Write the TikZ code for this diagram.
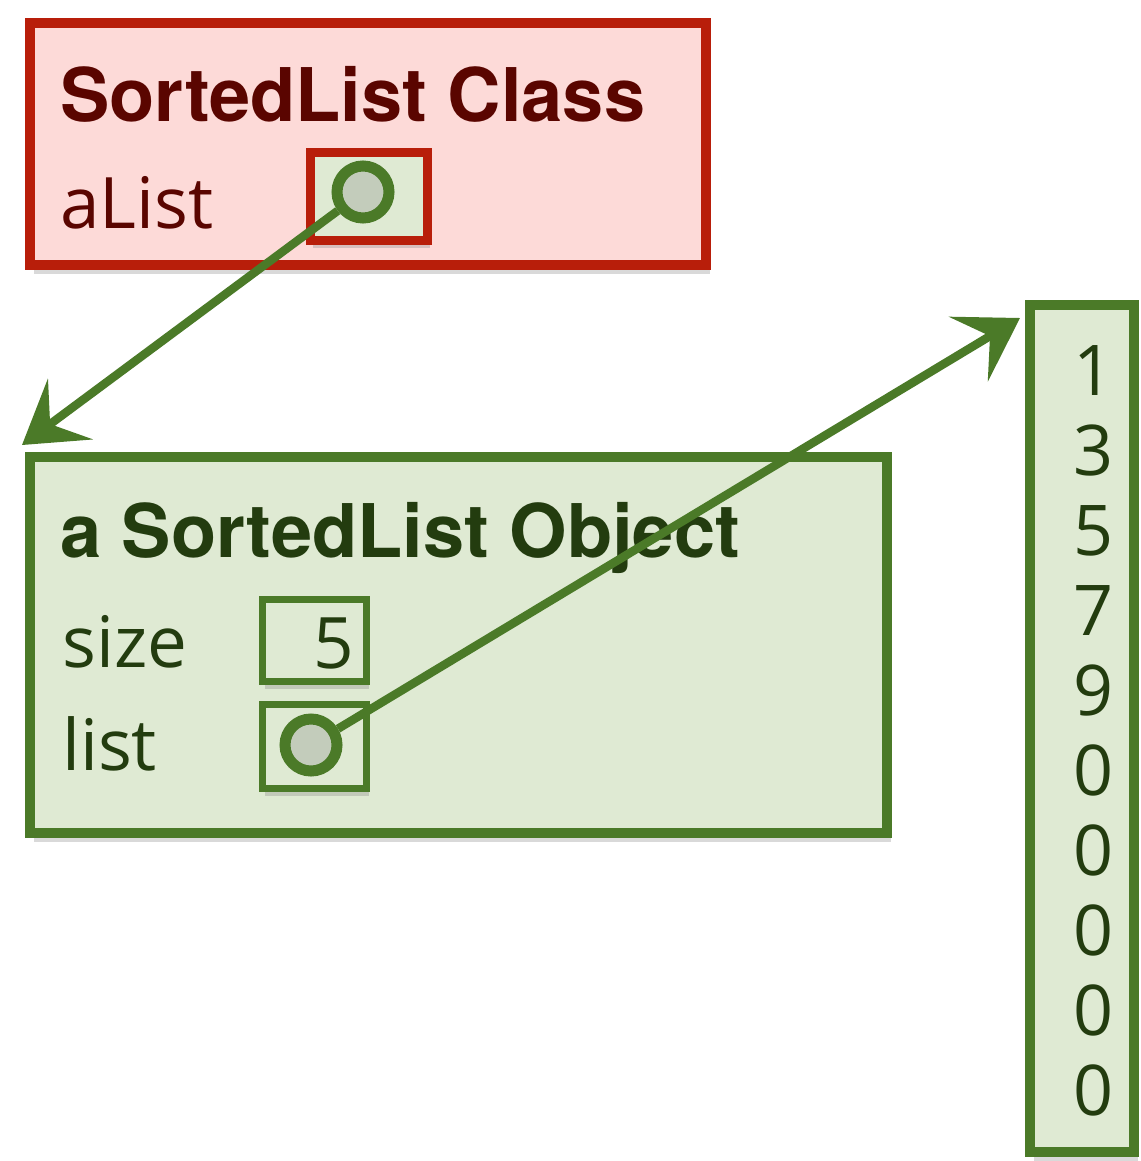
\documentclass[tikz,border=0pt]{standalone}
\usepackage{fontspec}
\setmainfont{Open Sans}
\newfontfamily\headfont{TeX Gyre Heros}
\usetikzlibrary{positioning,shadows,arrows.meta}
\definecolor{ClassLine}{HTML}{B81E0A}
\definecolor{ClassFill}{HTML}{FDDAD8}
\definecolor{ClassText}{HTML}{5A0500}
\definecolor{ObjLine}{HTML}{4B7A28}
\definecolor{ObjFill}{HTML}{DFEAD3}
\definecolor{ObjText}{HTML}{233C0F}
\definecolor{RefFill}{HTML}{C3CCBB}
\tikzset{%
	box/.style={
		rectangle,
		draw,
		line width=10pt,
		inner sep=0pt,
		drop shadow={shadow xshift=4pt, shadow yshift=-9pt, opacity=0.3}
	},
	box-class/.style={ draw=ClassLine, fill=ClassFill },
	box-object/.style={ draw=ObjLine, fill=ObjFill },
	slot/.style={
		rectangle,
		draw=ObjLine,
		fill=ObjFill,
		line width=7pt,
		inner sep=0pt,
		drop shadow={shadow xshift=3pt, shadow yshift=-8pt, opacity=0.3}
	},
	ref/.style={
		circle,
		draw=ObjLine,
		fill=RefFill,
		line width=11pt,
		minimum size=52pt,
		inner sep=0pt
	},
	head/.style={ font=\headfont\bfseries\fontsize{74}{80}\selectfont, anchor=base west, inner sep=0pt },
	field/.style={ font=\fontsize{71}{75}\selectfont, anchor=base west, inner sep=0pt },
	cell/.style={ font=\fontsize{70}{74}\selectfont, anchor=base, inner sep=0pt, text=ObjText },
	ptr/.style={ draw=ObjLine, line width=8.5pt, -{Stealth[length=60pt, width=75pt, inset=25pt]} },
}
\begin{document}
\begin{tikzpicture}[x=1pt, y=-1pt]
\useasboundingbox (0,0) rectangle (1140,1161);

% boxes
\node[box, box-class, minimum width=676pt, minimum height=242pt] (classbox) at (368,144) {};
\node[box, box-object, minimum width=857pt, minimum height=376pt] (objbox) at (458.5,645) {};
\node[box, box-object, minimum width=104pt, minimum height=847pt] (arr) at (1082,728.5) {};

% fields
\node[slot, draw=ClassLine, line width=9pt, minimum width=117pt, minimum height=87pt] (alistslot) at (368.5,196.5) {};
\node[slot, minimum width=104pt, minimum height=82pt] (sizeslot) at (314,640) {};
\node[slot, minimum width=104pt, minimum height=84pt] (listslot) at (314,746) {};
\node[ref] (alistref) at (363,192) {};
\node[ref] (listref) at (311,745) {};

% texts
\node[head, text=ClassText] (classtitle) at (60,122) {SortedList Class};
\node[field, text=ClassText] (alistname) at (60,228) {aList};
\node[head, text=ObjText] (objtitle) at (60,557) {a SortedList Object};
\node[field, text=ObjText] (sizename) at (62,667) {size};
\node[field, text=ObjText] (listname) at (62,770) {list};
\node[field, anchor=base east, text=ObjText] (sizeval) at (354,668) {5};

% array cells
\foreach \d [count=\i from 0] in {1,3,5,7,9,0,0,0,0,0}
	\node[cell] (cell-\i) at (1093,395+\i*80) {\d};

% pointers
\coordinate (objtip) at ([xshift=-3pt, yshift=7pt]objbox.north west);
\coordinate (arrtip) at ([xshift=-5pt, yshift=-18pt]arr.north west);
\draw[ptr] (alistref) -- (objtip);
\draw[ptr] (listref) -- (arrtip);

\end{tikzpicture}
\end{document}
